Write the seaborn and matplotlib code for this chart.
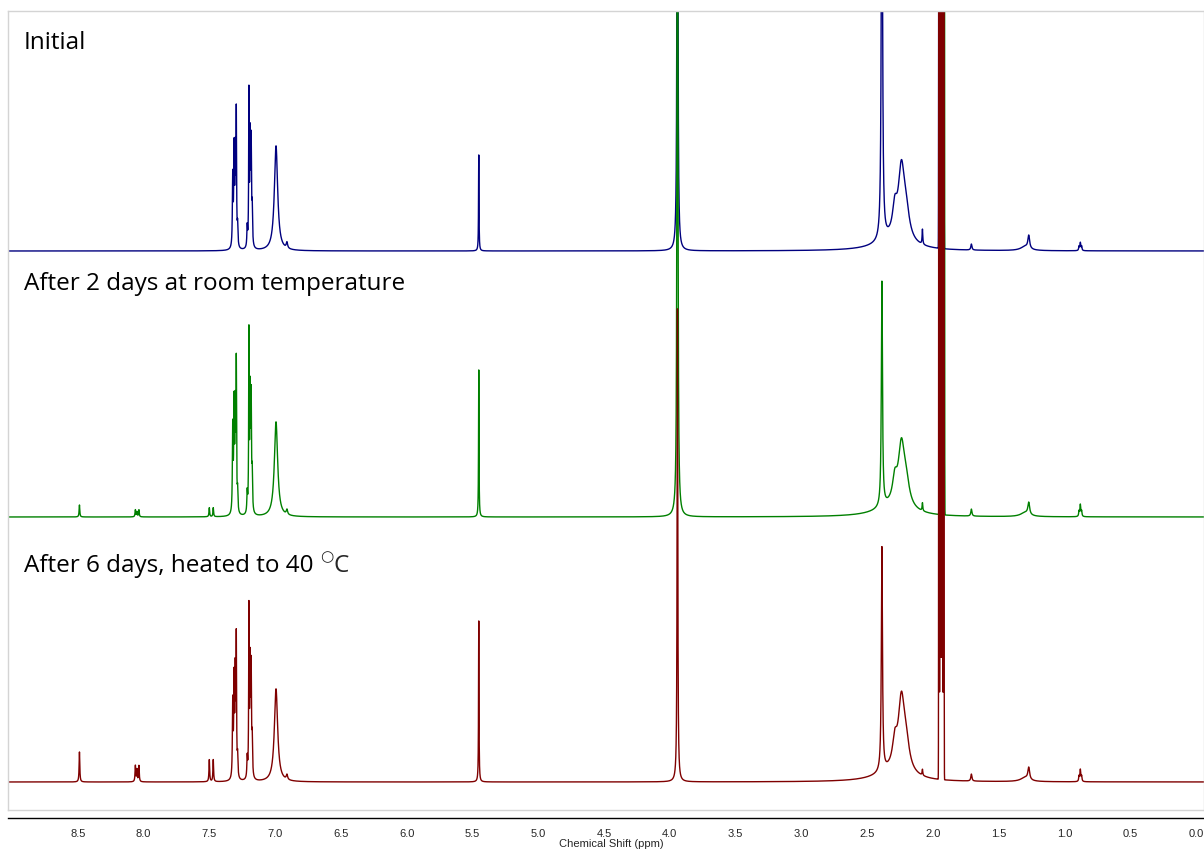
import numpy as np
import pandas as pd
import matplotlib
matplotlib.use("Agg")
import matplotlib.pyplot as plt
from matplotlib.ticker import MultipleLocator, FuncFormatter
import seaborn as sns

# peak table: position (ppm), half width (ppm)
peak_ppm = [8.487, 8.062, 8.050, 8.035, 7.500, 7.470,
            7.322, 7.312, 7.303, 7.295, 7.285,
            7.212, 7.199, 7.190, 7.182, 7.174,
            6.993, 6.910, 5.452, 3.942,
            2.388, 2.290, 2.240, 2.205, 2.300, 2.080,
            1.708, 1.300, 1.272, 0.890, 0.880, 0.870]
peak_hw = [0.003, 0.003, 0.003, 0.003, 0.003, 0.003,
           0.003, 0.003, 0.003, 0.0025, 0.003,
           0.003, 0.0022, 0.003, 0.003, 0.003,
           0.015, 0.006, 0.002, 0.003,
           0.005, 0.02, 0.028, 0.03, 0.15, 0.003,
           0.005, 0.04, 0.008, 0.003, 0.004, 0.003]

# heights (pixels above each baseline)
h_initial = [0, 0, 0, 0, 0, 0,
             70, 95, 90, 130, 20,
             20, 150, 105, 100, 35,
             105, 6, 96, 900,
             500, 26, 68, 25, 10, 15,
             6, 4, 13, 4, 8, 4]
h_2days = [12, 7, 5, 7, 9, 9,
           85, 105, 100, 145, 20,
           20, 175, 115, 110, 35,
           95, 5, 147, 1200,
           225, 22, 58, 22, 10, 8,
           7, 4, 12, 5, 12, 5]
h_6days = [30, 16, 12, 16, 22, 22,
           75, 95, 100, 135, 20,
           20, 165, 110, 105, 35,
           93, 5, 161, 473,
           224, 24, 68, 25, 10, 6,
           7, 4, 12, 5, 12, 5]

# acetonitrile residual quintet (gaussian lines)
solv_ppm = [1.954, 1.945, 1.936, 1.927, 1.918]
solv_initial = [1500, 2500, 3000, 2500, 1500]
solv_2days = [2000, 3500, 4000, 3500, 2000]
solv_6days = [3000, 5000, 6000, 5000, 3000]
solv_shift = [0.0, -0.004, 0.0]

labels = ["Initial", "After 2 days at room temperature",
          "After 6 days, heated to 40"]
colors = ["#00007f", "#008000", "#7f0000"]
offsets = [559, 293, 28]

ppm = np.linspace(9.1, -0.1, 36801)


def spectrum(heights, solv, shift):
    y = np.zeros_like(ppm)
    for p, w, h in zip(peak_ppm, peak_hw, heights):
        y += h * w**2 / ((ppm - p)**2 + w**2)
    for p, h in zip(solv_ppm, solv):
        y += h * np.exp(-(ppm - p - shift)**2 / (2 * 0.0015**2))
    return y


sns.set_style("white")
plt.rcParams['font.family'] = ['Open Sans', 'DejaVu Sans']

fig = plt.figure(figsize=(12.04, 8.52), dpi=100)
ax = fig.add_axes([8/1204, 42/852, 1196/1204, 799/852])
axx = fig.add_axes([8/1204, 34/852, 1196/1204, 0.0005])

sets = [(h_initial, solv_initial), (h_2days, solv_2days), (h_6days, solv_6days)]
for i, (hh, ss) in enumerate(sets):
    df = pd.DataFrame({"ppm": ppm, "I": spectrum(hh, ss, solv_shift[i]) + offsets[i]})
    sns.lineplot(data=df, x="ppm", y="I", ax=ax, color=colors[i], lw=1.0,
                 sort=False, estimator=None)

ax.set_xlim(9.03, -0.06)
ax.set_ylim(0, 799)
ax.set_xticks([])
ax.set_yticks([])
ax.set_xlabel("")
ax.set_ylabel("")
for s in ax.spines.values():
    s.set_color("#d4d4d4")
    s.set_linewidth(1.0)

label_y = [767, 526, 244]
texts = []
for t, yy in zip(labels, label_y):
    texts.append(ax.text(16/1196, yy, t, transform=ax.get_yaxis_transform(),
                         fontsize=17.5, va="center", ha="left", color="black"))

# degree ring + C after "40"
ring = ax.annotate("\u25cb", xy=(1, 0.66), xycoords=texts[2], xytext=(4.5, 3.8),
                   textcoords="offset points", va="center", ha="left",
                   fontsize=11, family="DejaVu Sans")
ax.annotate("C", xy=(1, 0), xycoords=(ring, texts[2]), xytext=(0.3, 0),
            textcoords="offset points", va="bottom", ha="left", fontsize=17.5)

for k in ["top", "left", "right"]:
    axx.spines[k].set_visible(False)
axx.spines["bottom"].set_color("black")
axx.spines["bottom"].set_linewidth(1.0)
axx.set_yticks([])
axx.set_xlim(9.03, -0.06)
axx.xaxis.set_major_locator(MultipleLocator(0.5))
axx.xaxis.set_minor_locator(MultipleLocator(0.25))
axx.xaxis.set_major_formatter(FuncFormatter(lambda v, p: "" if v > 8.9 else f"{abs(v):.1f}"))
axx.tick_params(axis="x", which="major", direction="out", length=6, width=1,
                pad=2, labelsize=8)
axx.tick_params(axis="x", which="minor", direction="out", length=4, width=1)
for lab in axx.get_xticklabels():
    lab.set_family("Liberation Sans")
fig.text(611/1204, 1 - 844/852, "Chemical Shift (ppm)", fontsize=8,
         family="Liberation Sans", ha="center", va="center")

fig.savefig("out.png", dpi=100)
